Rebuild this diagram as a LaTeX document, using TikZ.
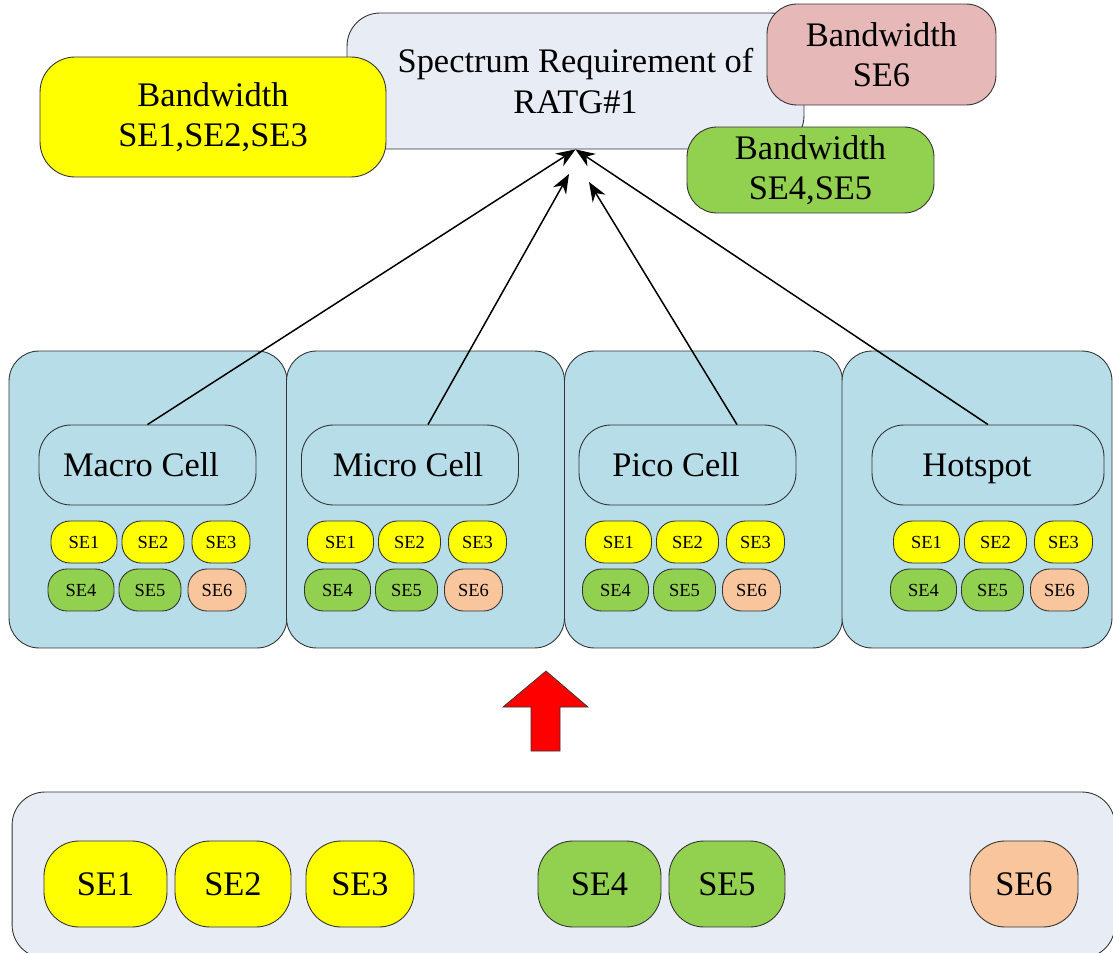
\documentclass[tikz,border=0pt]{standalone}
\usepackage{fontspec}
\setmainfont{Liberation Serif}
\usepackage{xcolor}
\usepackage{tikz}
\usetikzlibrary{arrows.meta,calc}

\definecolor{specfill}{HTML}{E8ECF5}
\definecolor{cellfill}{HTML}{B7DDE8}
\definecolor{seyellow}{HTML}{FFFF00}
\definecolor{segreen}{HTML}{92D050}
\definecolor{sepink}{HTML}{E6B9B8}
\definecolor{sesalmon}{HTML}{F8C59C}
\definecolor{edgegray}{HTML}{333333}

\begin{document}
\begin{tikzpicture}[
  x=0.02cm, y=-0.02cm,
  >=Stealth,
  every node/.style={font=\fontsize{19.6}{23}\selectfont, align=center, inner sep=0pt},
  panel/.style={draw=edgegray, line width=0.5pt, fill=specfill, rounded corners=0.66cm},
  bwbox/.style={draw=edgegray, line width=0.5pt, rounded corners=0.7cm},
  cellbox/.style={draw=edgegray, line width=0.5pt, fill=cellfill, rounded corners=0.6cm,
    minimum width=5.56cm, minimum height=5.94cm},
  celltag/.style={draw=edgegray, line width=0.5pt, fill=cellfill, rounded corners=0.64cm,
    minimum width=4.34cm, minimum height=1.6cm, text height=13pt, text depth=0pt},
  chip/.style={draw=edgegray, line width=0.5pt, rounded corners=0.38cm, minimum height=0.84cm,
    font=\fontsize{10.5}{12}\selectfont, text height=7pt, text depth=0pt},
  bigchip/.style={draw=edgegray, line width=0.5pt, rounded corners=0.7cm, minimum height=1.72cm,
    text height=13pt, text depth=0pt},
  link/.style={-{Stealth[length=11pt,width=8.5pt]}, line width=0.85pt},
]
\useasboundingbox (0,0) rectangle (1113,953);
% spectrum requirement and bandwidth boxes
\node[panel, minimum width=9.14cm, minimum height=2.72cm] (spec) at (575.5,81) {Spectrum Requirement of\\RATG\#1};
\node[bwbox, fill=seyellow, minimum width=6.92cm, minimum height=2.4cm] (bwlow) at (213,117) {Bandwidth\\SE1,SE2,SE3};
\node[bwbox, fill=sepink, minimum width=4.58cm, minimum height=2.02cm, rounded corners=0.6cm] (bwsix) at (881.5,54.5) {Bandwidth\\SE6};
\node[bwbox, fill=segreen, minimum width=4.94cm, minimum height=1.72cm, rounded corners=0.6cm] (bwmid) at (810.5,170) {Bandwidth\\SE4,SE5};
% cells
\node[cellbox] (macrocell) at (148,499.5) {};
\node[cellbox] (microcell) at (425.5,499.5) {};
\node[cellbox] (picocell) at (703.5,499.5) {};
\node[cellbox, minimum width=5.4cm] (hotcell) at (977,499.5) {};
\node[celltag] (macro) at (147.5,465) {Macro Cell\hspace*{0.26cm}};
\node[celltag] (micro) at (410,465) {Micro Cell\hspace*{0.08cm}};
\node[celltag] (pico) at (687.5,465) {Pico Cell\hspace*{0.46cm}};
\node[celltag, minimum width=4.64cm] (hotspot) at (988,465) {Hotspot\hspace*{0.44cm}};
\foreach \cell/\sx in {macro/84, micro/340.5, pico/618.5, hotspot/926.5} {
  \node[chip, fill=seyellow, minimum width=1.32cm] (\cell-se1) at (\sx,542) {SE1};
  \node[chip, fill=seyellow, minimum width=1.24cm] (\cell-se2) at (\sx+69,542) {SE2};
  \node[chip, fill=seyellow, minimum width=1.16cm] (\cell-se3) at (\sx+137,542) {SE3};
  \node[chip, fill=segreen, minimum width=1.32cm] (\cell-se4) at (\sx-3,590) {SE4};
  \node[chip, fill=segreen, minimum width=1.24cm] (\cell-se5) at (\sx+66,590) {SE5};
  \node[chip, fill=sesalmon, minimum width=1.16cm] (\cell-se6) at (\sx+133,590) {SE6};
}
% connectors
\coordinate (microtip) at (569,174);
\coordinate (picotip) at (589,182);
\draw[link] (macro.north) -- (spec.south);
\draw[link] ($(micro.north)+(18,0)$) -- (microtip);
\draw[link] ($(pico.north)+(49.5,0)$) -- (picotip);
\draw[link] (hotspot.north) -- (spec.south);
% red arrow
\filldraw[fill=red, draw=edgegray, line width=0.4pt] (546,671) -- (588,707) -- (560,707) -- (560,751)
  -- (531,751) -- (531,707) -- (503,707) -- cycle;
% spectrum pool
\node[panel, minimum width=22.06cm, minimum height=3.32cm] (pool) at (563.5,875) {};
\node[bigchip, fill=seyellow, minimum width=2.46cm] (pool-se1) at (105.5,884) {SE1};
\node[bigchip, fill=seyellow, minimum width=2.32cm] (pool-se2) at (233,884) {SE2};
\node[bigchip, fill=seyellow, minimum width=2.16cm] (pool-se3) at (360,884) {SE3};
\node[bigchip, fill=segreen, minimum width=2.46cm] (pool-se4) at (599.5,884) {SE4};
\node[bigchip, fill=segreen, minimum width=2.32cm] (pool-se5) at (727,884) {SE5};
\node[bigchip, fill=sesalmon, minimum width=2.16cm] (pool-se6) at (1024,884) {SE6};
\end{tikzpicture}
\end{document}
